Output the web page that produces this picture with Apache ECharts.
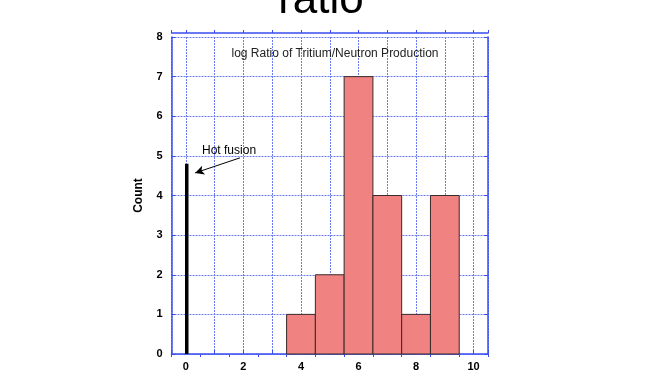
<!DOCTYPE html>
<html><head><meta charset="utf-8">
<script src="https://cdn.jsdelivr.net/npm/echarts@6/dist/echarts.min.js"></script>
<style>html,body{margin:0;padding:0;background:#fff}#c{width:672px;height:372px}</style>
</head><body><div id="c"></div>
<script>
// Data
const binCenters = [4, 5, 6, 7, 8, 9];
const counts = [1, 2, 7, 4, 1, 4];
const binWidth = 1;
const hotFusionX = [0.03, 0.03];
const hotFusionY = [0, 4.8];
const arrowFrom = [1.88, 4.95];
const arrowTo = [0.32, 4.57];
const noteAt = [1.5, 5.14];
const noteText = 'Hot fusion';
const plotTitle = 'log Ratio of Tritium/Neutron Production';
const pageTitle = 'ratio';
const yAxisName = 'Count';

const FONT = '"Liberation Sans", Arial, sans-serif';
const gridColor = '#6a7af0';
const axisColor = '#3a4ef0';

const histData = binCenters.map((c, i) => [c, counts[i]]);
const hotData = hotFusionX.map((x, i) => [x, hotFusionY[i]]);

const chart = echarts.init(document.getElementById('c'));
chart.setOption({
  animation: false,
  backgroundColor: '#fff',
  title: [
    { text: pageTitle, left: 316, top: -26, textAlign: 'center',
      textStyle: { fontFamily: FONT, fontSize: 44, fontWeight: 'normal', color: '#000' } },
    { text: plotTitle, left: 330, top: 43, textAlign: 'center',
      textStyle: { fontFamily: FONT, fontSize: 12, fontWeight: 'normal', color: '#222' } }
  ],
  grid: { left: 171.5, right: 184, top: 37, bottom: 18, containLabel: false },
  xAxis: [
    { type: 'value', min: -0.5, max: 10.5, splitNumber: 11, minInterval: 1, maxInterval: 1,
      position: 'bottom',
      axisLine: { show: true, onZero: false, lineStyle: { color: axisColor, width: 1.5 } },
      axisTick: { show: true, inside: true, length: 4, lineStyle: { color: axisColor } },
      axisLabel: { margin: 7, fontFamily: FONT, fontSize: 11, fontWeight: 'bold', color: '#000',
        formatter: v => (Math.abs(v % 2) < 1e-9 ? String(v) : '') },
      splitLine: { show: true, lineStyle: { color: [gridColor], type: [2, 1], width: 1 } } },
    { type: 'value', min: -0.5, max: 10.5, splitNumber: 11, minInterval: 1, maxInterval: 1,
      position: 'top', offset: 4,
      axisLine: { show: true, onZero: false, lineStyle: { color: axisColor, width: 1.5 } },
      axisTick: { show: true, inside: false, length: 3, lineStyle: { color: axisColor } },
      axisLabel: { show: false }, splitLine: { show: false } },
    { type: 'value', min: -0.5, max: 10.5, interval: 1, position: 'bottom',
      axisLine: { show: false, onZero: false },
      axisTick: { show: true, inside: false, length: 3, lineStyle: { color: axisColor } },
      axisLabel: { show: false }, splitLine: { show: false } }
  ],
  yAxis: [
    { type: 'value', min: 0, max: 8, interval: 1, position: 'left',
      name: yAxisName, nameLocation: 'middle', nameGap: 27, nameRotate: 90,
      nameTextStyle: { fontFamily: FONT, fontSize: 12, fontWeight: 'bold', color: '#000' },
      axisLine: { show: true, onZero: false, lineStyle: { color: axisColor, width: 1.5 } },
      axisTick: { show: true, inside: true, length: 4, lineStyle: { color: axisColor } },
      axisLabel: { margin: 9, fontFamily: FONT, fontSize: 11, fontWeight: 'bold', color: '#000' },
      splitLine: { show: true, lineStyle: { color: [gridColor], type: [2, 1], width: 1 } } },
    { type: 'value', min: 0, max: 8, interval: 1, position: 'right',
      axisLine: { show: true, onZero: false, lineStyle: { color: axisColor, width: 1.5 } },
      axisTick: { show: true, inside: true, length: 4, lineStyle: { color: axisColor } },
      axisLabel: { show: false }, splitLine: { show: false } }
  ],
  series: [
    { type: 'custom', xAxisIndex: 0, yAxisIndex: 0, data: histData,
      renderItem: (params, api) => {
        const x = api.value(0), y = api.value(1);
        const p0 = api.coord([x - binWidth / 2, y]);
        const p1 = api.coord([x + binWidth / 2, 0]);
        return { type: 'rect',
          shape: { x: p0[0], y: p0[1], width: p1[0] - p0[0], height: p1[1] - p0[1] },
          style: { fill: '#f08282', stroke: '#3a2a2a', lineWidth: 1 } };
      } },
    { type: 'line', xAxisIndex: 0, yAxisIndex: 0, data: hotData, symbol: 'none',
      lineStyle: { color: '#000', width: 3.5, cap: 'butt' },
      markLine: { silent: true, symbol: ['none', 'arrow'], symbolSize: [7, 9],
        label: { show: false },
        lineStyle: { color: '#000', width: 1, type: 'solid' },
        data: [[{ coord: arrowFrom }, { coord: arrowTo }]] },
      markPoint: { silent: true, symbol: 'circle', symbolSize: 0,
        label: { show: true, position: 'inside', formatter: noteText,
          fontFamily: FONT, fontSize: 12, color: '#000' },
        data: [{ coord: noteAt }] } }
  ]
});
</script></body></html>
